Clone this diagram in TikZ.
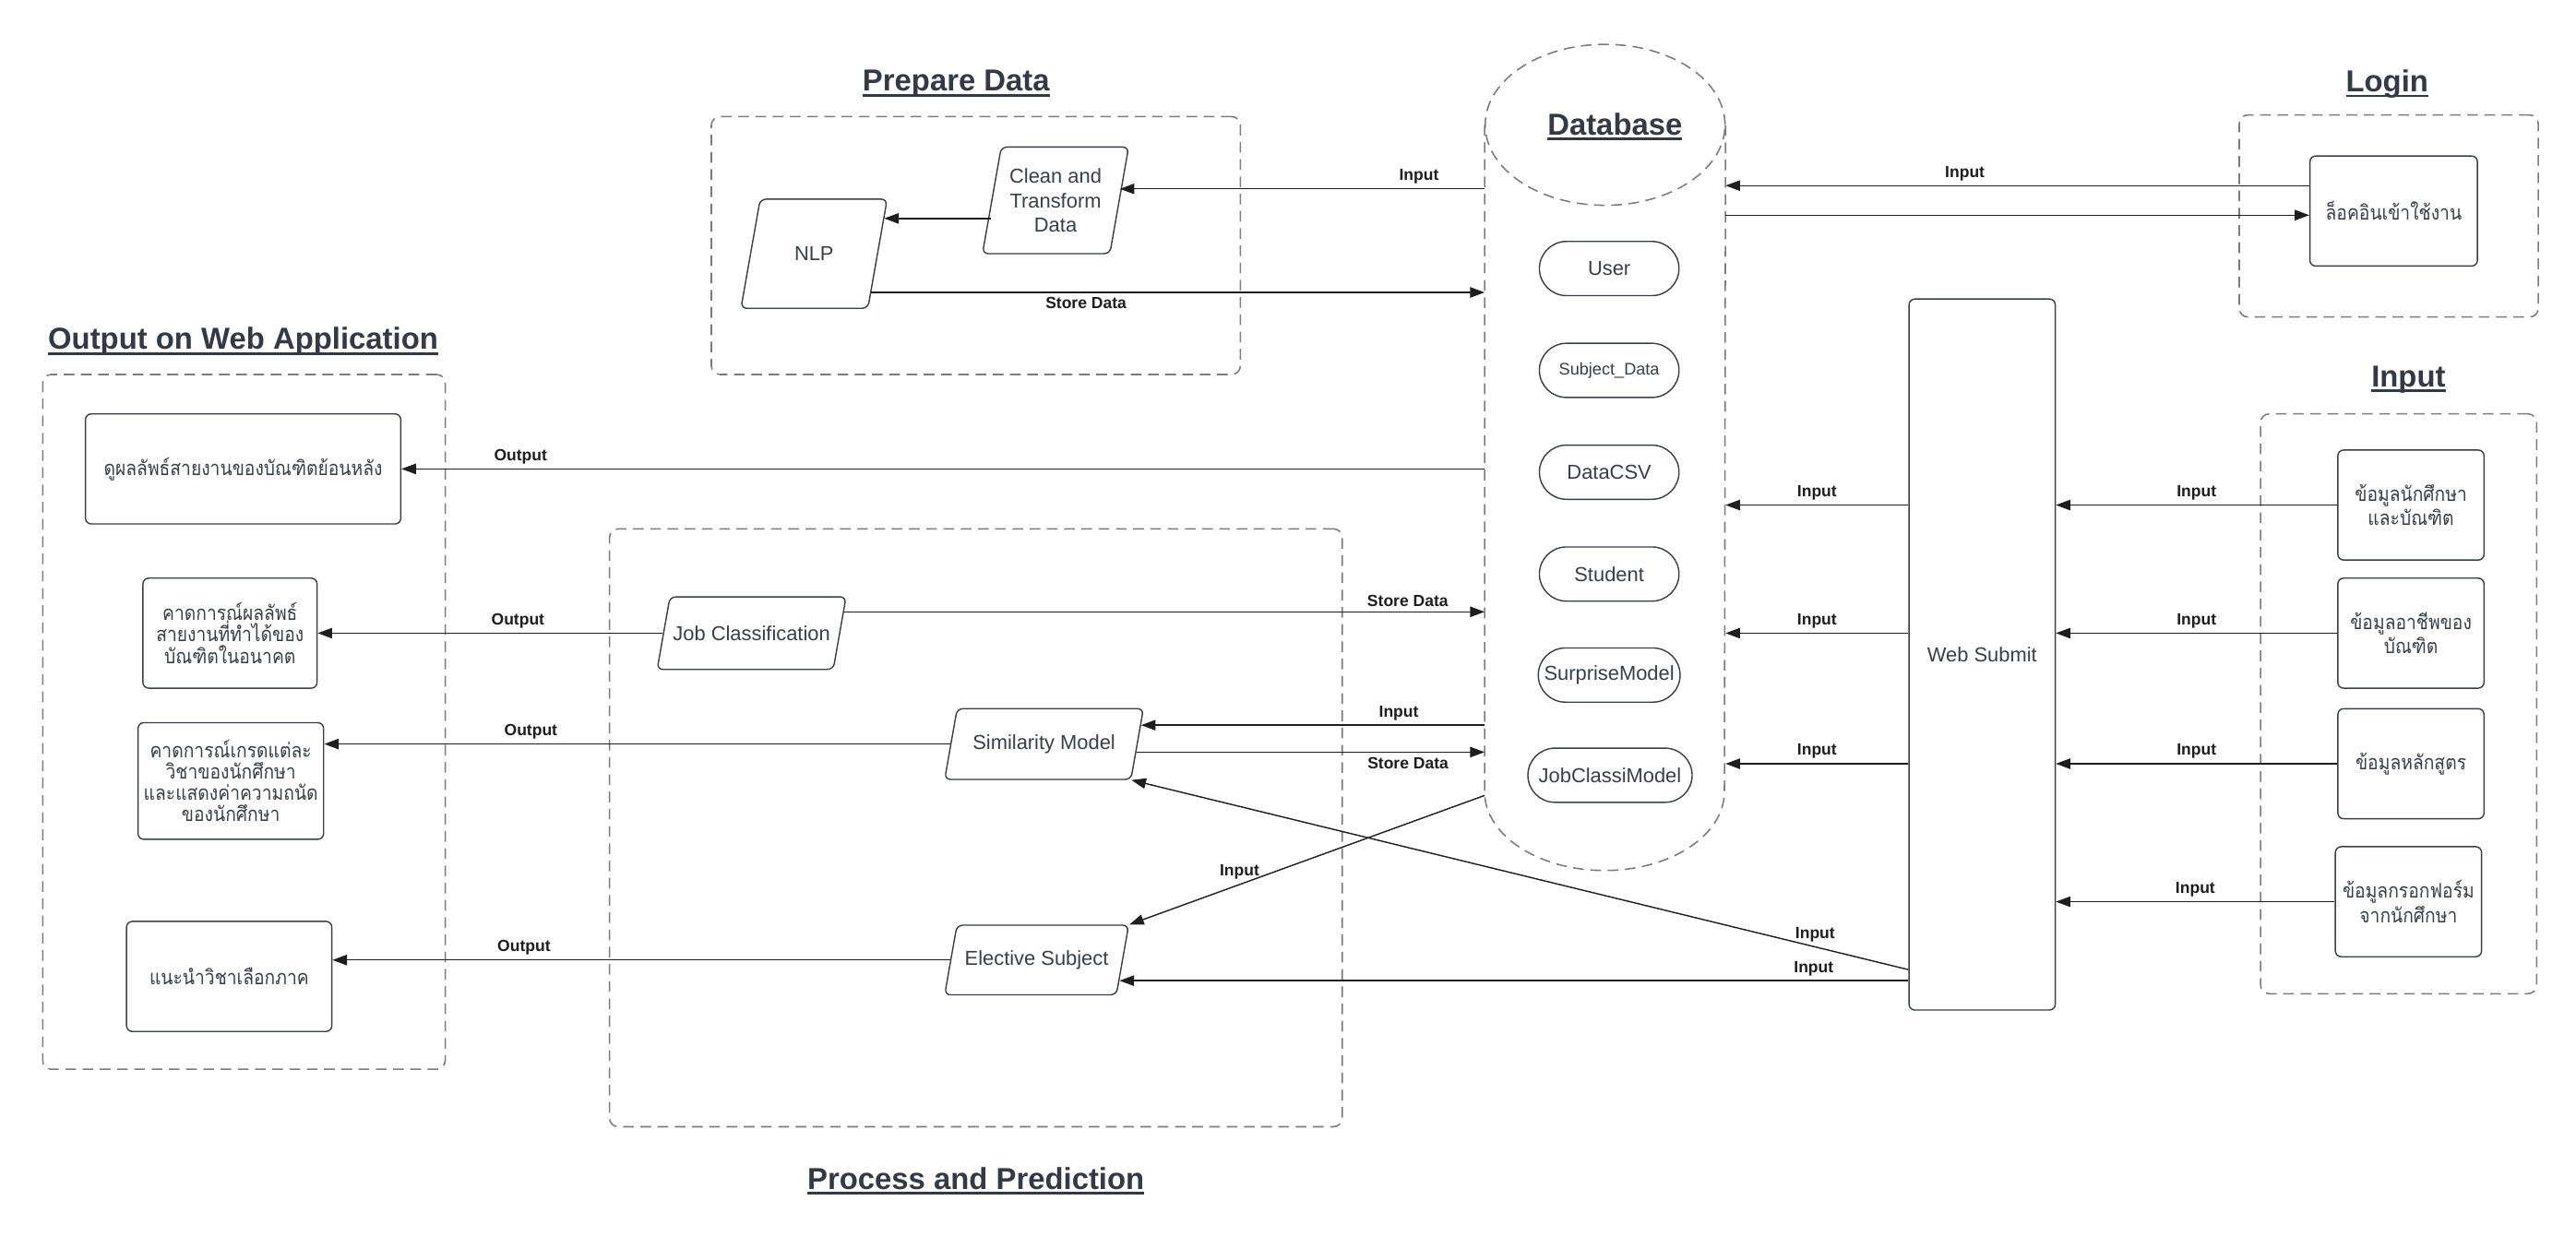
\documentclass[tikz,border=0pt]{standalone}
\usepackage{fontspec}
\setmainfont{Liberation Sans}
\newfontfamily\thaifont[Script=Thai, FakeStretch=0.88]{Loma}
\usetikzlibrary{arrows.meta, shapes.geometric, fit, calc}
\definecolor{Cink}{HTML}{3A3F47}
\definecolor{Ctitle}{HTML}{343A45}
\definecolor{Cgroup}{HTML}{7C7C7C}
\definecolor{Cline}{HTML}{1E1E1E}
\newcommand{\ultext}[1]{\setbox0=\hbox{#1}\leavevmode\rlap{\rule[-1.9pt]{\wd0}{0.85pt}}\box0}
\tikzset{
  groupbox/.style={draw=Cgroup, dash pattern=on 0.13cm off 0.08cm,
    rounded corners=3pt, line width=0.5pt, inner sep=0pt},
  grouptitle/.style={font=\fontsize{10.5}{12}\selectfont\bfseries,
    text=Ctitle, inner sep=0pt},
  procshape/.style={trapezium, trapezium left angle=80, trapezium right angle=100,
    trapezium stretches body, draw=Cink, rounded corners=2pt, line width=0.45pt,
    text=Cink, font=\fontsize{7}{8.4}\selectfont, align=center, inner xsep=1pt},
  plainbox/.style={draw=Cink, rounded corners=2pt, line width=0.45pt, text=Cink,
    font=\fontsize{7}{8.4}\selectfont, align=center,
    minimum width=1.78cm, minimum height=1.34cm, inner sep=1pt},
  thaibox/.style={plainbox, font=\thaifont\fontsize{7}{7.4}\selectfont},
  tablebox/.style={draw=Cink, rounded corners=0.33cm, line width=0.45pt, text=Cink,
    font=\fontsize{7}{8.4}\selectfont, minimum width=1.7cm, minimum height=0.66cm,
    inner xsep=2pt},
  arr/.style={-{Triangle[length=5pt, width=3.6pt]}, line width=0.45pt, draw=Cline},
  lbl/.style={font=\fontsize{5.6}{6.5}\selectfont\bfseries, text=Cline, inner sep=1.5pt},
}
\begin{document}
\begin{tikzpicture}[x=0.02cm, y=-0.02cm]
\useasboundingbox[fill=white] (0,0) rectangle (1568,767);

%%==========================================================================
%% GROUP BOXES AND TITLES
%%==========================================================================
\node[groupbox, fit={(433,71) (755,228)}] (prepbox) {};
\node[grouptitle] (preptitle) at (582,51) {\ultext{Prepare Data}};

\node[groupbox, fit={(1363,70) (1545,193)}] (loginbox) {};
\node[grouptitle] (logintitle) at (1453,51) {\ultext{Login}};

\node[groupbox, fit={(1376,252) (1544,605)}] (inbox) {};
\node[grouptitle] (intitle) at (1466,231) {\ultext{Input}};

\node[groupbox, fit={(26,228) (271,651)}] (outbox) {};
\node[grouptitle] (outtitle) at (148,208) {\ultext{Output on Web Application}};

\node[groupbox, fit={(371,322) (817,686)}] (procgroup) {};
\node[grouptitle] (proctitle) at (594,719) {\ultext{Process and Prediction}};

%%==========================================================================
%% DATABASE COLUMN
%%==========================================================================
\node[minimum width=2.92cm, minimum height=10.06cm, inner sep=0pt] (db) at (977,278.5) {};
\draw[groupbox] (977,76) ellipse [x radius=1.46cm, y radius=0.98cm];
\draw[groupbox, rounded corners=0pt] (db.west |- 0,76) -- (db.west |- 0,482)
  arc [start angle=180, end angle=360, x radius=1.46cm, y radius=0.96cm]
  -- (db.east |- 0,76);
\node[grouptitle] (dbtitle) at (983,77) {\ultext{Database}};

\node[tablebox] (user) at (979.5,163.5) {User};
\node[tablebox, font=\fontsize{5.8}{7}\selectfont] (subj) at (979.5,225.5) {Subject\_Data};
\node[tablebox] (csv) at (979.5,287.5) {DataCSV};
\node[tablebox] (student) at (979.5,349.5) {Student};
\node[tablebox] (surprise) at (979.5,411) {SurpriseModel};
\node[tablebox, minimum width=2cm] (jobmodel) at (980,472) {JobClassiModel};

%%==========================================================================
%% NODES
%%==========================================================================
\node[procshape, minimum width=1.78cm, inner ysep=16.5pt] (nlp) at (495.5,154.5) {NLP};
\node[procshape, minimum width=1.78cm, inner ysep=7.5pt] (clean) at (642.5,122)
  {Clean and\\Transform\\Data};

\node[thaibox, minimum width=2.04cm] (login) at (1457,128.5) {ล็อคอินเข้าใช้งาน};

\node[thaibox] (in1) at (1467.5,307.5) {ข้อมูลนักศึกษา\\และบัณฑิต};
\node[thaibox] (in2) at (1467.5,385.5) {ข้อมูลอาชีพของ\\บัณฑิต};
\node[thaibox] (in3) at (1467.5,465) {ข้อมูลหลักสูตร};
\node[thaibox] (in4) at (1466,549) {ข้อมูลกรอกฟอร์ม\\จากนักศึกษา};

\node[plainbox, minimum height=8.66cm] (web) at (1206.5,398.5) {Web Submit};

\node[thaibox, minimum width=3.84cm] (out1) at (148,285.5) {ดูผลลัพธ์สายงานของบัณฑิตย้อนหลัง};
\node[thaibox, minimum width=2.12cm] (out2) at (140,385.5)
  {คาดการณ์ผลลัพธ์\\สายงานที่ทำได้ของ\\บัณฑิตในอนาคต};
\node[thaibox, minimum width=2.26cm, minimum height=1.42cm] (out3) at (140.5,475.5)
  {คาดการณ์เกรดแต่ละ\\วิชาของนักศึกษา\\และแสดงค่าความถนัด\\ของนักศึกษา};
\node[thaibox, minimum width=2.5cm] (out4) at (139.5,594.5) {แนะนำวิชาเลือกภาค};

\node[procshape, minimum width=2.3cm, inner ysep=10pt] (job) at (457.5,385.5) {Job Classification};
\node[procshape, minimum width=2.42cm, inner ysep=9pt] (sim) at (635.5,453) {Similarity Model};
\node[procshape, minimum width=2.24cm, inner ysep=8.8pt] (elect) at (631,584.5) {Elective Subject};

%%==========================================================================
%% ARROWS
%%==========================================================================
\draw[arr] ([yshift=0.14cm]clean.east -| db.west) -- ([yshift=0.14cm]clean.east)
  node[lbl, above, pos=0.18] {Input};
\draw[arr] ([yshift=-0.22cm]clean.west) -- ([yshift=-0.22cm]clean.west -| nlp.26);
\draw[arr] (nlp.326) -- (nlp.326 -| db.west) node[lbl, below, pos=0.35] {Store Data};

\draw[arr] ([yshift=0.31cm]login.west) -- ([yshift=0.31cm]login.west -| db.east)
  node[lbl, above, pos=0.59] {Input};
\draw[arr] ([yshift=-0.05cm]login.west -| db.east) -- ([yshift=-0.05cm]login.west);

\draw[arr] (out1.east -| db.west) -- (out1.east) node[lbl, above, pos=0.89] {Output};
\draw[arr] (job.west) -- (job.west -| out2.east) node[lbl, above, pos=0.42] {Output};
\draw[arr] (job.13) -- (job.13 -| db.west) node[lbl, above, pos=0.88] {Store Data};
\draw[arr] (sim.11 -| db.west) -- (sim.11) node[lbl, above, pos=0.25] {Input};
\draw[arr] (sim.355) -- (sim.355 -| db.west) node[lbl, below, pos=0.78] {Store Data};
\draw[arr] (sim.west) -- (sim.west -| out3.east) node[lbl, above, pos=0.67] {Output};
\draw[arr] ([yshift=0.92cm]db.south west) -- (elect.top right corner)
  node[lbl, above, pos=0.69] {Input};
\draw[arr] (elect.west) -- (elect.west -| out4.east) node[lbl, above, pos=0.69] {Output};

\draw[arr] ([yshift=0.5cm]web.south west) -- (sim.bottom right corner)
  node[lbl, above, pos=0.12] {Input};
\draw[arr] (elect.346 -| web.west) -- (elect.346) node[lbl, above, pos=0.12] {Input};

\draw[arr] (in1.west -| web.west) -- (in1.west -| db.east) node[lbl, above, pos=0.5] {Input};
\draw[arr] (in2.west -| web.west) -- (in2.west -| db.east) node[lbl, above, pos=0.5] {Input};
\draw[arr] (in3.west -| web.west) -- (in3.west -| db.east) node[lbl, above, pos=0.5] {Input};

\draw[arr] (in1.west) -- (in1.west -| web.east) node[lbl, above, pos=0.5] {Input};
\draw[arr] (in2.west) -- (in2.west -| web.east) node[lbl, above, pos=0.5] {Input};
\draw[arr] (in3.west) -- (in3.west -| web.east) node[lbl, above, pos=0.5] {Input};
\draw[arr] (in4.west) -- (in4.west -| web.east) node[lbl, above, pos=0.5] {Input};

\end{tikzpicture}
\end{document}
